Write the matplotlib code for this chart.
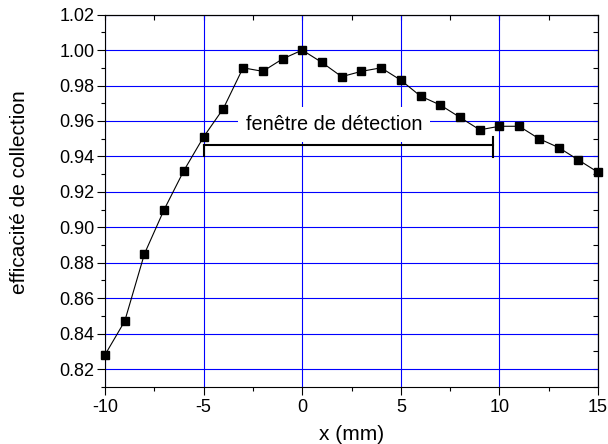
import numpy as np
import matplotlib
matplotlib.use("Agg")
import matplotlib.pyplot as plt
from matplotlib.ticker import MultipleLocator

plt.rcParams['font.family'] = ['Liberation Sans', 'DejaVu Sans']
plt.rcParams['axes.unicode_minus'] = False

# position (mm) and collection efficiency
x_mm = [-10, -9, -8, -7, -6, -5, -4, -3, -2, -1, 0, 1, 2, 3, 4,
        5, 6, 7, 8, 9, 10, 11, 12, 13, 14, 15]
efficacite = [0.828, 0.847, 0.885, 0.910, 0.932, 0.951, 0.967, 0.990, 0.988, 0.995, 1.000,
              0.993, 0.985, 0.988, 0.990, 0.983, 0.974, 0.969, 0.962, 0.955,
              0.957, 0.957, 0.950, 0.945, 0.938, 0.931]

# detection window bracket
fenetre_x = [-5, 9.65]
fenetre_y = 0.9464
fenetre_label = "fenêtre de détection"

fig = plt.figure(figsize=(6.08, 4.44), dpi=100)
ax = fig.add_axes([0.1727, 0.129, 0.811, 0.838])

ax.set_xlim(-10, 15)
ax.set_ylim(0.81, 1.02)
ax.xaxis.set_major_locator(MultipleLocator(5))
ax.xaxis.set_minor_locator(MultipleLocator(2.5))
ax.yaxis.set_major_locator(MultipleLocator(0.02))
ax.yaxis.set_minor_locator(MultipleLocator(0.01))
ax.yaxis.set_major_formatter(plt.FormatStrFormatter('%.2f'))

ax.grid(True, which='major', color='#0000ff', linewidth=0.8, zorder=0)
ax.set_axisbelow(True)

ax.tick_params(which='major', direction='out', length=5.5, width=0.8, labelsize=13, pad=2)
ax.tick_params(which='minor', direction='out', length=3, width=0.8)
ax.tick_params(axis='x', which='major', pad=3)

# mirrored ticks on top / right, pointing inward
top = ax.secondary_xaxis('top')
top.xaxis.set_major_locator(MultipleLocator(5))
top.xaxis.set_minor_locator(MultipleLocator(2.5))
top.tick_params(which='major', direction='in', length=3.5, width=0.8, labeltop=False)
top.tick_params(which='minor', direction='in', length=3.5, width=0.8)
right = ax.secondary_yaxis('right')
right.yaxis.set_major_locator(MultipleLocator(0.02))
right.yaxis.set_minor_locator(MultipleLocator(0.01))
right.tick_params(which='major', direction='in', length=3.5, width=0.8, labelright=False)
right.tick_params(which='minor', direction='in', length=3.5, width=0.8)

ax.plot(x_mm, efficacite, color='black', linewidth=0.8, marker='s', markersize=6,
        markerfacecolor='black', markeredgecolor='black', zorder=3, clip_on=False)

# bracket
ax.plot(fenetre_x, [fenetre_y, fenetre_y], color='black', linewidth=1.5, zorder=4)
ax.plot([fenetre_x[0], fenetre_x[0]], [fenetre_y, 0.9405], color='black', linewidth=1.5, zorder=4)
ax.plot([fenetre_x[1], fenetre_x[1]], [0.9512, 0.9398], color='black', linewidth=1.5, zorder=4)

ax.text(1.6, 0.9582, fenetre_label, fontsize=14.3, ha='center', va='center', zorder=5,
        bbox=dict(boxstyle='square,pad=0.4', facecolor='white', edgecolor='none'))

ax.set_xlabel("x (mm)", fontsize=15, labelpad=7)
ax.set_ylabel("efficacité de collection", fontsize=15)
ax.yaxis.set_label_coords(-0.155, 0.522)

fig.savefig("out.png", dpi=100)
